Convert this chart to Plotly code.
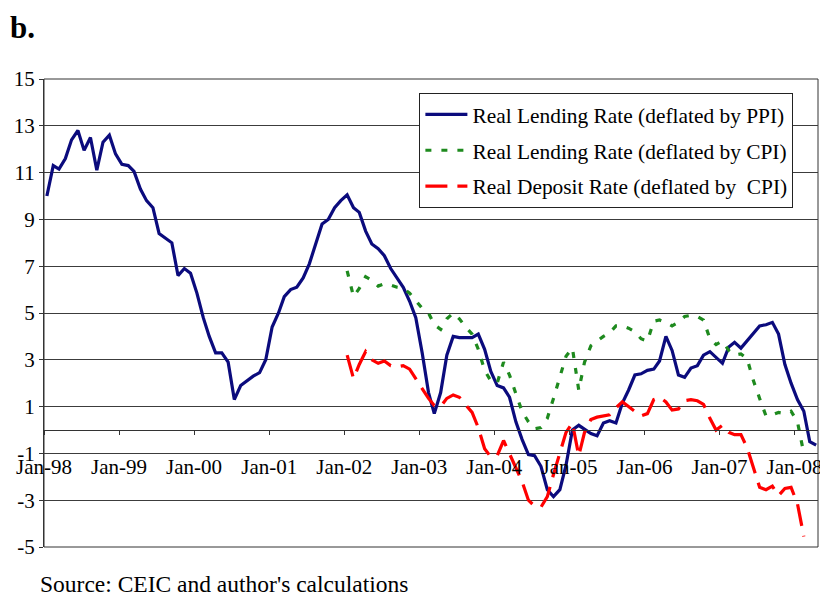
import pandas as pd
import plotly.graph_objects as go

# ---------------- data (monthly, Jan-98 onward) ----------------
ppi_lending = [
    10.0, 11.3, 11.15, 11.6, 12.4, 12.8, 11.95, 12.5, 11.1, 12.3, 12.6, 11.8,      # 1998
    11.35, 11.3, 11.05, 10.3, 9.8, 9.5, 8.4, 8.2, 8.0, 6.6, 6.9, 6.7,             # 1999
    5.85, 4.8, 4.0, 3.3, 3.3, 2.9, 1.3, 1.9, 2.1, 2.3, 2.45, 3.0,                 # 2000
    4.4, 5.0, 5.7, 6.0, 6.1, 6.5, 7.1, 8.0, 8.8, 9.0, 9.5, 9.8,                   # 2001
    10.05, 9.5, 9.3, 8.5, 7.95, 7.75, 7.45, 6.9, 6.5, 6.1, 5.5, 4.8,              # 2002
    3.3, 1.6, 0.7, 1.6, 3.2, 4.0, 3.95, 3.95, 3.95, 4.1, 3.45, 2.5,               # 2003
    1.9, 1.8, 1.4, 0.35, -0.4, -1.05, -1.1, -1.55, -2.55, -2.85, -2.55, -1.5,     # 2004
    0.0, 0.2, 0.05, -0.15, -0.25, 0.3, 0.4, 0.3, 1.15, 1.7, 2.35, 2.4,            # 2005
    2.55, 2.6, 2.95, 4.0, 3.4, 2.35, 2.25, 2.65, 2.75, 3.2, 3.35, 3.1,            # 2006
    2.85, 3.55, 3.75, 3.5, 3.8, 4.15, 4.45, 4.5, 4.6, 4.1, 2.8, 2.0,              # 2007
    1.3, 0.8, -0.5, -0.65,                                                        # 2008
]

cpi_lending = [
    6.8, 5.7, 6.05, 6.55, 6.4, 6.15, 6.25, 6.2, 6.1, 6.05, 5.85, 5.55,            # 2002
    5.2, 5.0, 4.5, 4.3, 4.75, 5.0, 4.75, 4.4, 4.1, 3.45, 2.55, 2.1,               # 2003
    2.0, 2.9, 2.35, 1.55, 0.8, 0.35, 0.05, 0.1, 0.5, 1.35, 2.3, 3.15,             # 2004
    3.5, 1.7, 2.9, 3.6, 3.8, 4.0, 4.15, 4.45, 4.45, 4.35, 4.2, 3.9,               # 2005
    3.8, 4.65, 4.7, 4.6, 4.45, 4.6, 4.85, 4.9, 4.85, 4.7, 3.9, 3.65,              # 2006
    3.8, 3.4, 3.2, 3.25, 3.05, 2.1, 1.35, 0.6, 0.65, 0.75, 0.7, 0.8,              # 2007
    0.35, -1.0,                                                                   # 2008
]

cpi_deposit = [
    3.2, 2.2, 2.8, 3.35, 3.0, 2.85, 2.95, 2.75, 2.7, 2.75, 2.6, 2.2,              # 2002
    1.8, 1.35, 1.05, 1.0, 1.35, 1.5, 1.4, 1.1, 0.75, 0.1, -0.8, -1.15,            # 2003
    -1.1, -0.45, -1.0, -1.55, -2.2, -3.0, -3.25, -3.3, -2.85, -1.9, -1.0, -0.1,   # 2004
    0.3, -1.1, -0.1, 0.45, 0.55, 0.6, 0.65, 0.95, 1.2, 1.0, 0.8, 0.6,             # 2005
    0.7, 1.3, 1.4, 1.2, 0.85, 0.9, 1.25, 1.3, 1.25, 1.1, 0.5, 0.0,                # 2006
    0.2, -0.1, -0.2, -0.2, -0.75, -1.6, -2.45, -2.55, -2.4, -2.8, -2.5, -2.45,    # 2007
    -3.15, -4.55,                                                                 # 2008
]

series_names = [
    "Real Lending Rate (deflated by PPI)",
    "Real Lending Rate (deflated by CPI)",
    "Real Deposit Rate (deflated by  CPI)",
]

year_ticks = [f"{y}-01-01" for y in range(1998, 2009)]
year_labels = ["Jan-98", "Jan-99", "Jan-00", "Jan-01", "Jan-02", "Jan-03",
               "Jan-04", "Jan-05", "Jan-06", "Jan-07", "Jan-08"]
y_ticks = [15, 13, 11, 9, 7, 5, 3, 1, -1, -3, -5]
y_labels = ["15", "13", "11", "9", "7", "5", "3", "1", "-1", "-3", "-5"]

# monthly points plotted mid-month (Excel date axis, between tick marks)
months = pd.date_range("1998-01-01", periods=len(ppi_lending), freq="MS") + pd.Timedelta(days=14)
cpi_months = months[48:48 + len(cpi_lending)]

FONT = "Liberation Serif"

fig = go.Figure()
fig.add_trace(go.Scatter(x=months, y=ppi_lending, mode="lines", name=series_names[0],
                         legendgroup="a",
                         line=dict(color="#0b0b7d", width=3.2)))
fig.add_trace(go.Scatter(x=cpi_months, y=cpi_lending, mode="lines", name=series_names[1],
                         legendgroup="b",
                         line=dict(color="#1e8a1e", width=3.2, dash="6px,10px")))
fig.add_trace(go.Scatter(x=cpi_months, y=cpi_deposit, mode="lines", name=series_names[2],
                         legendgroup="c",
                         line=dict(color="#ff0000", width=3.2, dash="22px,10px")))

# the page body adds an 8px offset, so the figure is 820x588 with margins shifted by 8px
fig.update_layout(
    width=820, height=588,
    margin=dict(l=36, r=6, t=71, b=49),
    paper_bgcolor="white", plot_bgcolor="white",
    font=dict(family=FONT, size=21, color="black"),
    showlegend=True,
    legend=dict(x=0.485, y=0.97, xanchor="left", yanchor="top",
                bgcolor="white", bordercolor="#222", borderwidth=1,
                font=dict(family=FONT, size=21.4, color="black"),
                itemwidth=42, tracegroupgap=5),
    xaxis=dict(type="date", range=["1998-01-01", "2008-04-24"],
               anchor="free", position=0.25,
               tickvals=year_ticks, ticktext=year_labels,
               showgrid=False, zeroline=False,
               showline=True, linecolor="#333", linewidth=1,
               ticks="outside", ticklen=4, tickcolor="#333",
               ticklabelstandoff=14,
               tickfont=dict(family=FONT, size=21, color="black")),
    yaxis=dict(range=[-5, 15], tickvals=y_ticks, ticktext=y_labels,
               showgrid=True, gridcolor="#3c3c3c", gridwidth=1,
               zeroline=False, showline=True, linecolor="#333", linewidth=1,
               ticks="outside", ticklen=4, tickcolor="#333",
               tickfont=dict(family=FONT, size=21, color="black")),
    shapes=[dict(type="rect", xref="paper", yref="paper", x0=0, x1=1, y0=0, y1=1,
                 line=dict(color="#333", width=1), layer="below")],
    annotations=[
        dict(text="<b>b.</b>", xref="paper", yref="paper", x=-0.046, y=1.111,
             xanchor="left", yanchor="middle", showarrow=False,
             font=dict(family=FONT, size=31, color="black")),
        dict(text="Source: CEIC and author's calculations", xref="paper", yref="paper",
             x=-0.008, y=-0.08, xanchor="left", yanchor="middle", showarrow=False,
             font=dict(family=FONT, size=23.5, color="black")),
    ],
)

fig.write_html("out.html")
